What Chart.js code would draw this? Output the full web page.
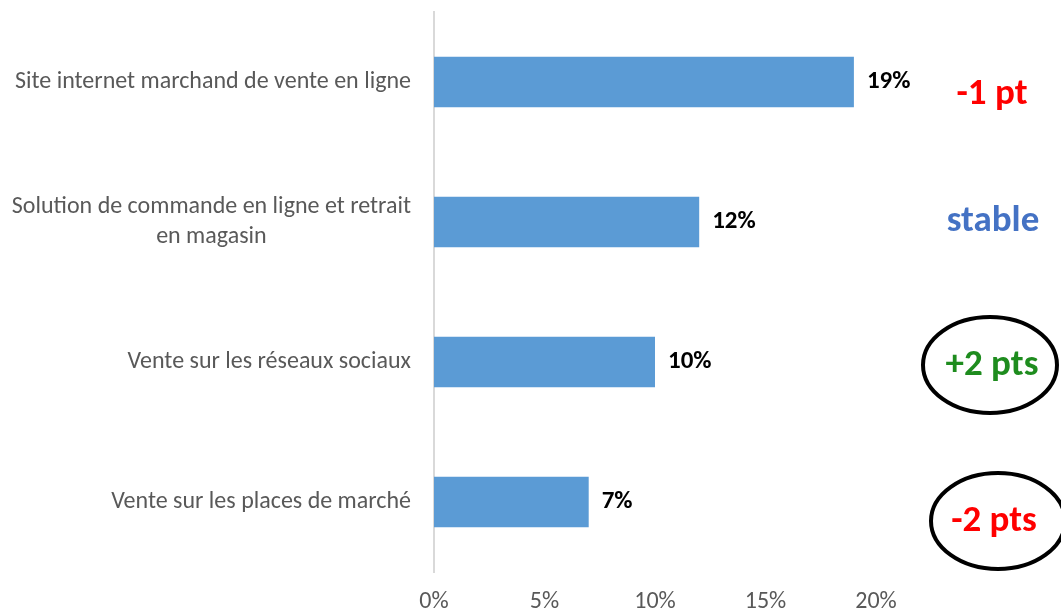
<!DOCTYPE html>
<html lang="fr">
<head>
<meta charset="utf-8">
<script src="https://cdn.jsdelivr.net/npm/chart.js@4/dist/chart.umd.min.js"></script>
<style>
  html, body { margin: 0; padding: 0; background: #fff; }
  #wrap { width: 1061px; height: 613px; }
</style>
</head>
<body>
<div id="wrap"><canvas id="chart"></canvas></div>
<script>
// --- Données ---
const categories = [
    ['Site internet marchand de vente en ligne'],
    ['Solution de commande en ligne et retrait', 'en magasin'],
    ['Vente sur les réseaux sociaux'],
    ['Vente sur les places de marché']
];
const values = [19, 12, 10, 7];
const evolutions = ['-1 pt', 'stable', '+2 pts', '-2 pts'];
const evolutionColors = ['#FF0000', '#4472C4', '#1E8C1E', '#FF0000'];
const circled = [false, false, true, true];
const xTicks = [0, 5, 10, 15, 20];

const FONT = 'Carlito, Calibri, Lato, "Open Sans", sans-serif';

// Libellés des catégories : alignés à droite, lignes centrées entre elles
const categoryLabels = {
    id: 'categoryLabels',
    afterDraw(chart) {
        const ctx = chart.ctx;
        const y = chart.scales.y;
        const right = y.right - 23;
        const lh = 30;
        ctx.save();
        ctx.font = '24px ' + FONT;
        ctx.fillStyle = '#595959';
        ctx.textAlign = 'center';
        ctx.textBaseline = 'middle';
        categories.forEach((lines, i) => {
            const cy = y.getPixelForValue(i);
            const w = Math.max(...lines.map(l => ctx.measureText(l).width));
            const cx = right - w / 2;
            const top = cy - (lines.length - 1) * lh / 2;
            lines.forEach((l, k) => ctx.fillText(l, cx, top + k * lh));
        });
        ctx.restore();
    }
};

// Valeurs au bout des barres + évolutions à droite
const barValues = {
    id: 'barValues',
    afterDatasetsDraw(chart) {
        const ctx = chart.ctx;
        const meta = chart.getDatasetMeta(0);
        ctx.save();
        ctx.font = 'bold 25px ' + FONT;
        ctx.fillStyle = '#000';
        ctx.textBaseline = 'middle';
        ctx.textAlign = 'left';
        meta.data.forEach((bar, i) => {
            ctx.fillText(values[i] + '%', bar.x + 13, bar.y);
        });

        ctx.font = 'bold 37px ' + FONT;
        ctx.textAlign = 'center';
        const shifts = [13, 0, 4, 20];
        meta.data.forEach((bar, i) => {
            const cx = i === 3 ? 994 : (i === 1 ? 993 : 992);
            const cy = bar.y + shifts[i];
            if (circled[i]) {
                ctx.beginPath();
                ctx.lineWidth = 4;
                ctx.strokeStyle = '#000';
                ctx.ellipse(cx + (i === 3 ? 4 : -2), cy - 1, 67, 48, 0, 0, Math.PI * 2);
                ctx.stroke();
            }
            ctx.fillStyle = evolutionColors[i];
            ctx.fillText(evolutions[i], cx, cy);
        });
        ctx.restore();
    }
};

new Chart(document.getElementById('chart'), {
    type: 'bar',
    data: {
        labels: categories.map(c => c.join(' ')),
        datasets: [{
            data: values,
            backgroundColor: '#5B9BD5',
            borderWidth: 0,
            barPercentage: 0.72,
            categoryPercentage: 0.5
        }]
    },
    options: {
        indexAxis: 'y',
        responsive: true,
        maintainAspectRatio: false,
        animation: false,
        layout: { padding: { left: 0, right: 185, top: 12, bottom: 0 } },
        plugins: { legend: { display: false }, tooltip: { enabled: false } },
        scales: {
            x: {
                min: 0, max: 20,
                afterBuildTicks: s => { s.ticks = xTicks.map(v => ({ value: v })); },
                grid: { display: false, drawTicks: false },
                border: { display: false },
                ticks: {
                    padding: 16,
                    color: '#595959',
                    font: { family: FONT, size: 24 },
                    callback: v => v + '%'
                },
                afterFit: s => { s.height = 41; }
            },
            y: {
                grid: { display: false, drawTicks: false },
                border: { display: true, color: '#D9D9D9', width: 2 },
                ticks: { display: false },
                afterFit: s => { s.width = 434; }
            }
        }
    },
    plugins: [categoryLabels, barValues]
});
</script>
</body>
</html>
